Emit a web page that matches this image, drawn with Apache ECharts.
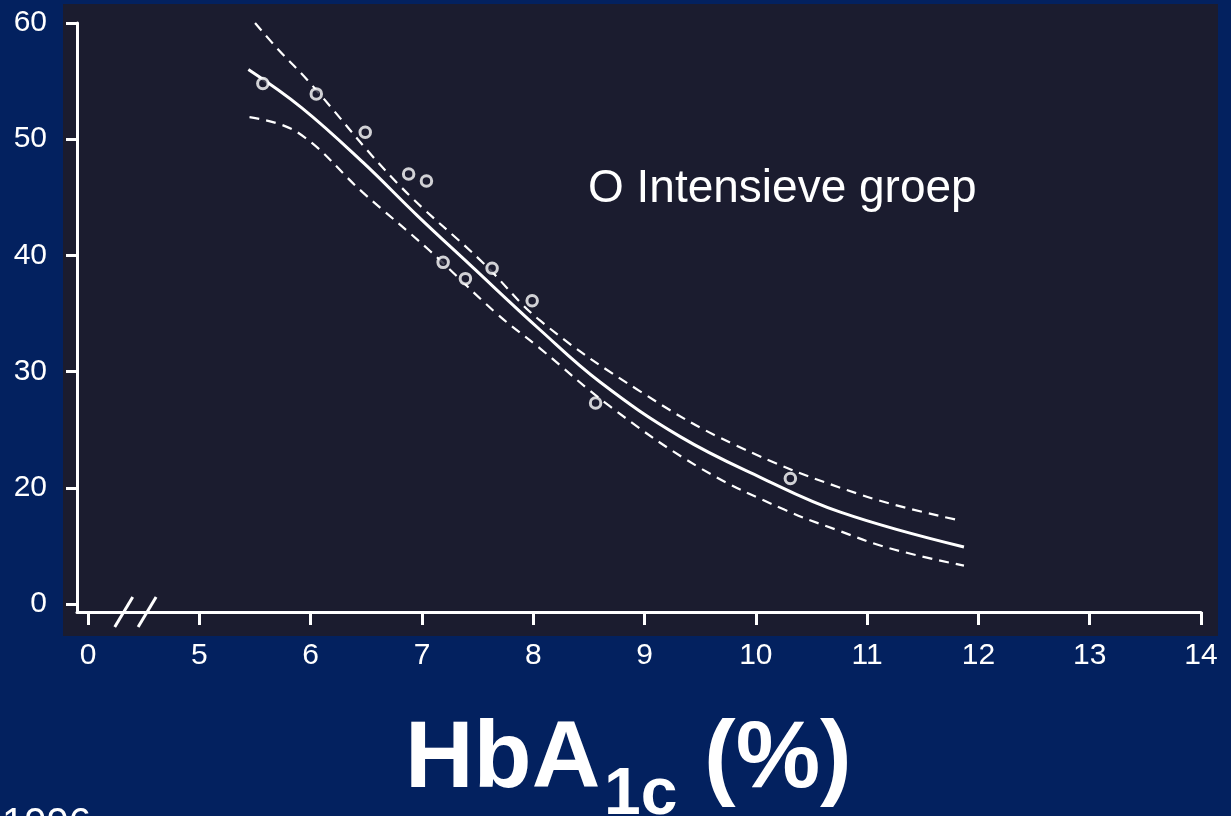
<!DOCTYPE html>
<html>
<head>
<meta charset="utf-8">
<style>
  html, body { margin: 0; padding: 0; background: #03215f; }
  #chart { width: 1231px; height: 816px; }
</style>
<script src="https://cdn.jsdelivr.net/npm/echarts@6.0.0/dist/echarts.min.js"></script>
</head>
<body>
<div id="chart"></div>
<script>
var dom = document.getElementById('chart');
var myChart = echarts.init(dom, null, { renderer: 'canvas' });

// as tick values (axis is broken: 4 is shown as "0", 10 as "0")
const xTickValues = [4, 5, 6, 7, 8, 9, 10, 11, 12, 13, 14];
const xTickLabels = ['0', '5', '6', '7', '8', '9', '10', '11', '12', '13', '14'];
const yTickValues = [10, 20, 30, 40, 50, 60];
const yTickLabels = ['0', '20', '30', '40', '50', '60'];

// meetpunten
const pointsX = [5.57, 6.05, 6.49, 6.88, 7.04, 7.19, 7.39, 7.63, 7.99, 8.56, 10.31];
const pointsY = [54.8, 53.9, 50.6, 47.0, 46.4, 39.4, 38.0, 38.9, 36.1, 27.3, 20.8];

// regressielijn
const fitX = [5.44, 5.92, 6.47, 6.96, 7.43, 8.06, 8.60, 9.32, 10.04, 10.76, 11.87];
const fitY = [56.0, 52.7, 48.0, 43.4, 39.2, 33.6, 29.1, 24.4, 20.9, 17.9, 14.9];

// betrouwbaarheidsgrenzen
const upperX = [5.50, 5.71, 5.97, 6.78, 7.55, 8.06, 8.96, 9.81, 10.96, 11.83];
const upperY = [60.0, 57.7, 55.1, 46.2, 39.35, 34.4, 28.3, 23.7, 19.35, 17.2];
const lowerX = [5.45, 5.88, 6.47, 7.07, 7.67, 8.06, 8.69, 9.50, 10.26, 10.72, 11.20, 11.87];
const lowerY = [51.9, 50.6, 45.4, 40.4, 35.0, 32.0, 27.0, 21.7, 18.1, 16.4, 14.8, 13.3];

const xMin = 3.9, xMax = 14, yMin = 9.31, yMax = 60;
const breakMarks = [4.32, 4.53]; // plek van de // op de x-as

function pairs(xs, ys) {
    return xs.map((x, i) => [x, ys[i]]);
}

const panelColor = '#1b1c2f';
const font = 'Liberation Sans, Arial, sans-serif';

var option = {
    backgroundColor: '#03215f',
    animation: false,
    grid: {
        left: 77,
        right: 30,
        top: 23,
        bottom: 204
    },
    legend: {
        data: [{ name: 'Intensieve groep', icon: 'none' }],
        left: 578,
        top: 161,
        itemWidth: 0,
        selectedMode: false,
        formatter: 'O {name}',
        textStyle: { color: '#ffffff', fontSize: 46, fontFamily: font }
    },
    xAxis: {
        type: 'value',
        min: xMin,
        max: xMax,
        splitLine: { show: false },
        axisLine: { lineStyle: { color: '#ffffff', width: 3 } },
        axisTick: {
            customValues: xTickValues,
            length: 13,
            lineStyle: { color: '#ffffff', width: 3 }
        },
        axisLabel: {
            customValues: xTickValues,
            margin: 29,
            color: '#ffffff',
            fontSize: 30,
            fontFamily: font,
            formatter: function (v) {
                return xTickLabels[xTickValues.indexOf(v)];
            }
        }
    },
    yAxis: {
        type: 'value',
        min: yMin,
        max: yMax,
        splitLine: { show: false },
        axisLine: { show: true, lineStyle: { color: '#ffffff', width: 3 } },
        axisTick: {
            show: true,
            customValues: yTickValues,
            length: 11,
            lineStyle: { color: '#ffffff', width: 3 }
        },
        axisLabel: {
            customValues: yTickValues,
            margin: 30,
            color: '#ffffff',
            fontSize: 30,
            fontFamily: font,
            formatter: function (v) {
                return yTickLabels[yTickValues.indexOf(v)];
            }
        }
    },
    graphic: [
        {
            type: 'rect',
            z: -100,
            shape: { x: 63, y: 4, width: 1155, height: 632 },
            style: { fill: panelColor }
        },
        {
            type: 'text',
            left: 405,
            top: 713,
            style: { text: 'HbA', fill: '#ffffff', fontSize: 95, fontWeight: 'bold', fontFamily: font }
        },
        {
            type: 'text',
            left: 604,
            top: 763,
            style: { text: '1c', fill: '#ffffff', fontSize: 66, fontWeight: 'bold', fontFamily: font }
        },
        {
            type: 'text',
            left: 704,
            top: 713,
            style: { text: '(%)', fill: '#ffffff', fontSize: 95, fontWeight: 'bold', fontFamily: font }
        },
        {
            type: 'text',
            x: 2,
            y: 805,
            style: { text: '1996', fill: '#ffffff', fontSize: 40, fontFamily: font, verticalAlign: 'top' }
        }
    ],
    series: [
        {
            name: 'bovengrens',
            type: 'line',
            smooth: 0.4,
            showSymbol: false,
            lineStyle: { color: '#ffffff', width: 2.2, type: [10, 7] },
            data: pairs(upperX, upperY)
        },
        {
            name: 'ondergrens',
            type: 'line',
            smooth: 0.4,
            showSymbol: false,
            lineStyle: { color: '#ffffff', width: 2.2, type: [10, 7] },
            data: pairs(lowerX, lowerY)
        },
        {
            name: 'regressie',
            type: 'line',
            smooth: 0.4,
            showSymbol: false,
            lineStyle: { color: '#ffffff', width: 3 },
            data: pairs(fitX, fitY)
        },
        {
            name: 'Intensieve groep',
            type: 'scatter',
            symbol: 'circle',
            symbolSize: 10.5,
            z: 5,
            itemStyle: { color: panelColor, borderColor: '#ffffff', borderWidth: 3 },
            data: pairs(pointsX, pointsY)
        }
    ]
};

myChart.setOption(option);

// breekstreepjes op de x-as
var marks = breakMarks.map(function (b) {
    var p = myChart.convertToPixel({ gridIndex: 0 }, [b, yMin]);
    return {
        type: 'line',
        shape: { x1: p[0] - 9, y1: p[1] + 15, x2: p[0] + 9, y2: p[1] - 15 },
        style: { stroke: '#ffffff', lineWidth: 3 }
    };
});
myChart.setOption({ graphic: option.graphic.concat(marks) });

window.addEventListener('resize', myChart.resize);
</script>
</body>
</html>
